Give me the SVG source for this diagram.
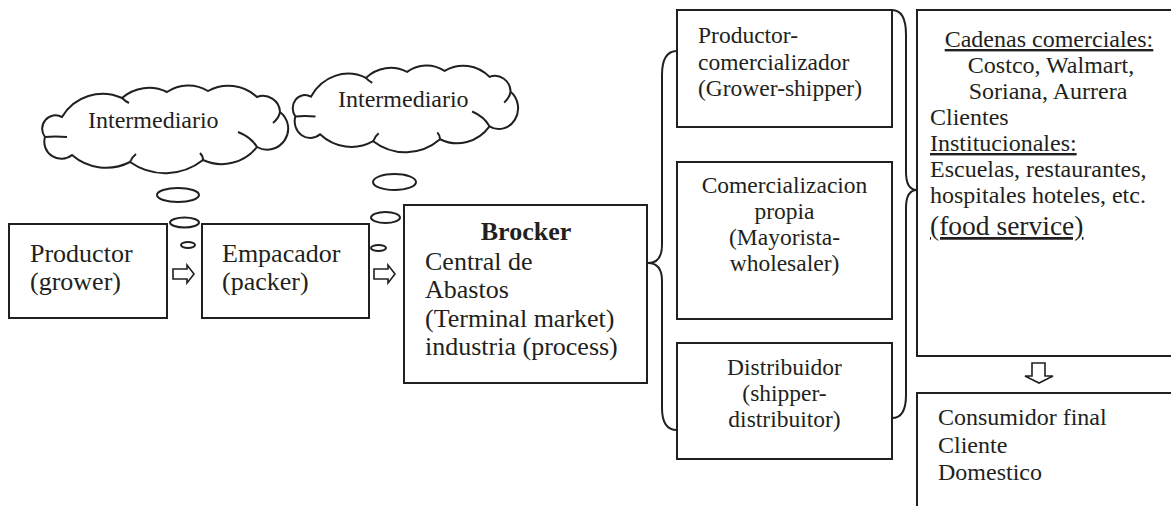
<svg xmlns="http://www.w3.org/2000/svg" width="1171" height="506" viewBox="0 0 1171 506">
<style>
.box{fill:#fff;stroke:#231f20;stroke-width:2}
.ln{fill:none;stroke:#231f20;stroke-width:2}
.bub{fill:#fff;stroke:#231f20;stroke-width:2}
.arr{fill:#fff;stroke:#231f20;stroke-width:1.6;stroke-linejoin:miter}
text{font-family:"Liberation Serif","Times New Roman",serif;fill:#231f20}
.f26{font-size:26px}
.f24{font-size:24px}
.f23{font-size:23.5px}
.f27{font-size:27.5px}
.b{font-weight:bold}
.u{text-decoration:underline}
.c{text-anchor:middle}
</style>
<defs>
<g id="cloud">
<path class="bub" vector-effect="non-scaling-stroke" d="M25 32 A47 47 0 0 1 85 13 A41 41 0 0 1 130 7 A38 38 0 0 1 171 6 A42 42 0 0 1 220 12 A17 17 0 0 1 243 27 A21 21 0 0 1 220 62 A45 45 0 0 1 166 75 A61 61 0 0 1 93 77 A52 52 0 0 1 35 70 A17 17 0 0 1 8 52 A13.4 13.4 0 0 1 25 32 Z"/>
<path class="ln" vector-effect="non-scaling-stroke" d="M8 52 Q18 51 30 52 M220 62 Q214 52 201 47 M243 27 Q242 33 236 38 M93 77 Q95 72 99 69 M166 75 Q166 71 163 68 M85 13 Q88 16 92 18"/>
</g>
</defs>

<g id="connectors">
<polygon class="arr" points="173,269 187,269 187,265 194,274 187,283 187,279 173,279"/>
<polygon class="arr" points="374,269 388,269 388,265 395,274 388,283 388,279 374,279"/>
<polygon class="arr" points="1032,363 1045,363 1045,376 1053,376 1039,383 1025,376 1032,376"/>
<path class="ln" d="M677 51 Q662 51 662 75 L662 245 Q662 263 648 263 Q662 263 662 281 L662 408 Q662 430 677 430"/>
<path class="ln" d="M892 10 Q906 10 906 35 L906 172 Q906 190 917 190 Q906 190 906 208 L906 395 Q906 418 892 418"/>
<ellipse class="bub" cx="178" cy="195" rx="21" ry="7"/>
<ellipse class="bub" cx="184.5" cy="222.5" rx="14.5" ry="5"/>
<ellipse class="bub" cx="188" cy="245" rx="7" ry="3"/>
<ellipse class="bub" cx="394.5" cy="182" rx="21.5" ry="8"/>
<ellipse class="bub" cx="385.5" cy="217.5" rx="14.5" ry="5.5"/>
<ellipse class="bub" cx="378.5" cy="248" rx="7.5" ry="3"/>
</g>

<g id="cloud1">
<use href="#cloud" transform="translate(37,85)"/>
<text class="f24" x="88" y="128">Intermediario</text>
</g>
<g id="cloud2">
<use href="#cloud" transform="translate(288,65) scale(0.916,0.99)"/>
<text class="f24" x="338" y="107">Intermediario</text>
</g>

<g id="productor">
<rect class="box" x="9" y="224" width="158" height="94"/>
<text class="f26" x="30" y="262">Productor</text>
<text class="f26" x="30" y="290">(grower)</text>
</g>
<g id="empacador">
<rect class="box" x="202" y="224" width="167" height="94"/>
<text class="f26" x="222" y="262">Empacador</text>
<text class="f26" x="222" y="290">(packer)</text>
</g>
<g id="brocker">
<rect class="box" x="404" y="205" width="243" height="178"/>
<text class="f26 b c" x="526" y="240">Brocker</text>
<text class="f26" x="425" y="270">Central de</text>
<text class="f26" x="425" y="298">Abastos</text>
<text class="f26" x="425" y="327">(Terminal market)</text>
<text class="f26" x="425" y="355">industria (process)</text>
</g>
<g id="productor-comercializador">
<rect class="box" x="677" y="10" width="215" height="117"/>
<text class="f23" x="698" y="43">Productor-</text>
<text class="f23" x="698" y="70">comercializador</text>
<text class="f23" x="698" y="96">(Grower-shipper)</text>
</g>
<g id="comercializacion">
<rect class="box" x="677" y="162" width="215" height="157"/>
<text class="f23 c" x="784.5" y="193">Comercializacion</text>
<text class="f23 c" x="784.5" y="219">propia</text>
<text class="f23 c" x="784.5" y="245">(Mayorista-</text>
<text class="f23 c" x="784.5" y="271">wholesaler)</text>
</g>
<g id="distribuidor">
<rect class="box" x="677" y="343" width="215" height="116"/>
<text class="f23 c" x="784.5" y="375">Distribuidor</text>
<text class="f23 c" x="784.5" y="401">(shipper-</text>
<text class="f23 c" x="784.5" y="427">distribuitor)</text>
</g>
<g id="clientes">
<rect class="box" x="917" y="10" width="270" height="346"/>
<text class="f24 c u" x="1049" y="47">Cadenas comerciales:</text>
<text class="f24 c" x="1051" y="73">Costco, Walmart,</text>
<text class="f24 c" x="1048" y="99">Soriana, Aurrera</text>
<text class="f24" x="930" y="125">Clientes</text>
<text class="f24 u" x="930" y="151">Institucionales:</text>
<text class="f24" x="930" y="177">Escuelas, restaurantes,</text>
<text class="f24" x="930" y="203">hospitales hoteles, etc.</text>
<text class="f27 u" x="930" y="235">(food service)</text>
</g>
<g id="consumidor">
<rect class="box" x="917" y="393" width="270" height="130"/>
<text class="f24" x="938" y="425">Consumidor final</text>
<text class="f24" x="938" y="453">Cliente</text>
<text class="f24" x="938" y="480">Domestico</text>
</g>
</svg>
